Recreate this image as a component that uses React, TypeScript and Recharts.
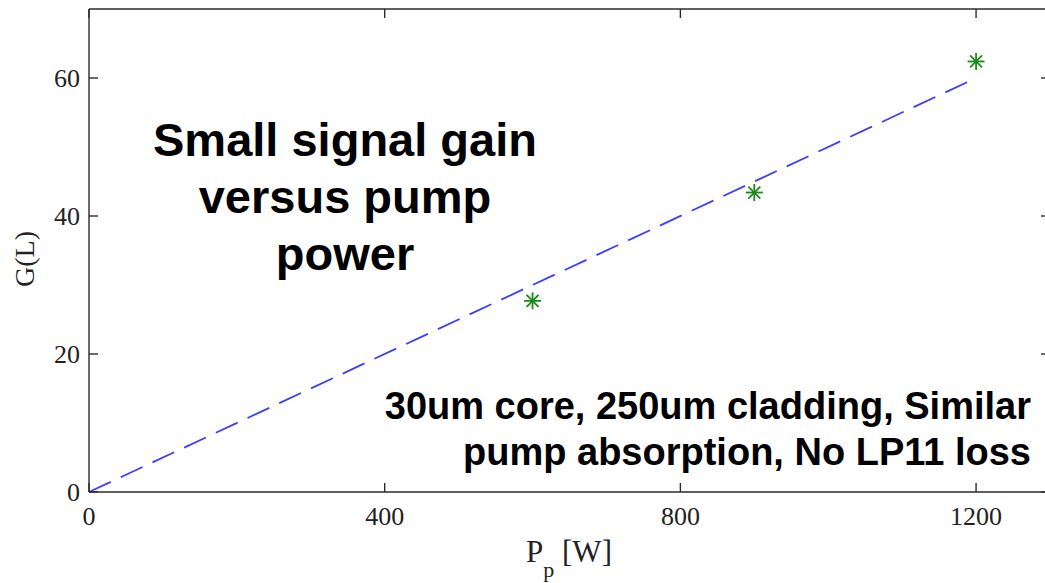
import {
  ComposedChart,
  Line,
  Scatter,
  XAxis,
  YAxis,
} from "recharts";

// linear fit through the origin (dashed blue)
const fitPower = [0, 1200];
const fitGain = [0, 60];

// simulated points (green asterisks)
const measPower = [600, 900, 1200];
const measGain = [27.7, 43.4, 62.4];

const xTicks = [0, 400, 800, 1200];
const yTicks = [0, 20, 40, 60];
const xDomain = [0, 1300];
const yDomain = [0, 70];

const fitData = fitPower.map((p, i) => ({ p, g: fitGain[i] }));
const measData = measPower.map((p, i) => ({ p, g: measGain[i] }));

const SERIF = '"Liberation Serif", "Times New Roman", serif';
const SANS = '"Liberation Sans", Arial, sans-serif';
const AXIS = "#2b2b2b";
const TICK_LEN = 9;

const axisLine = { stroke: AXIS, strokeWidth: 1.4 };
const tickLine = { stroke: AXIS, strokeWidth: 1.4 };

/**
 * Small signal gain G(L) vs pump power P_p. MATLAB-ish look: boxed axes,
 * ticks pointing into the plot (negative tickSize), serif tick labels.
 * The right edge of the box sits just outside the picture, like the original.
 */
export default function App() {
  return (
    <div style={{ position: "relative", width: 1045, height: 583, overflow: "hidden", background: "#fff" }}>
      <style>{"body{margin:0;overflow:hidden}"}</style>
      <ComposedChart
        width={1055}
        height={583}
        margin={{ top: 8, right: 0, bottom: 0, left: 0 }}
      >
        <XAxis
          dataKey="p"
          type="number"
          domain={xDomain}
          ticks={xTicks}
          interval={0}
          height={91}
          tickSize={-TICK_LEN}
          tickMargin={TICK_LEN}
          tickLine={tickLine}
          axisLine={axisLine}
          tick={<BottomTick />}
          label={() => (
            <text x={569} y={562} textAnchor="middle" fontFamily={SERIF} fontSize={31} fill="#222">
              <tspan>P</tspan>
              <tspan dy={15} fontSize={22}>p</tspan>
              <tspan dy={-15}> [W]</tspan>
            </text>
          )}
        />
        <XAxis
          xAxisId="top"
          dataKey="p"
          orientation="top"
          type="number"
          domain={xDomain}
          ticks={xTicks}
          interval={0}
          height={1}
          tickSize={-TICK_LEN}
          tickLine={tickLine}
          axisLine={axisLine}
          tick={<NoLabel />}
        />
        <YAxis
          dataKey="g"
          type="number"
          domain={yDomain}
          ticks={yTicks}
          interval={0}
          width={89}
          tickSize={-TICK_LEN}
          tickMargin={TICK_LEN}
          tickLine={tickLine}
          axisLine={axisLine}
          tick={<LeftTick />}
          label={() => (
            <text
              x={24}
              y={259}
              transform="rotate(-90 24 259)"
              textAnchor="middle"
              dy="0.35em"
              fontFamily={SERIF}
              fontSize={28}
              fill="#222"
            >
              G(L)
            </text>
          )}
        />
        <YAxis
          yAxisId="right"
          dataKey="g"
          orientation="right"
          type="number"
          domain={yDomain}
          ticks={yTicks}
          interval={0}
          width={5}
          tickSize={-TICK_LEN}
          tickLine={tickLine}
          axisLine={axisLine}
          tick={<NoLabel />}
        />
        {/* invisible copy of the fit so the top/right frame axes have a series */}
        <Line
          xAxisId="top"
          yAxisId="right"
          data={fitData}
          dataKey="g"
          stroke="none"
          dot={false}
          activeDot={false}
          isAnimationActive={false}
        />
        <Line
          data={fitData}
          dataKey="g"
          type="linear"
          stroke="#3d3dff"
          strokeWidth={1.8}
          strokeDasharray="24 11"
          dot={false}
          activeDot={false}
          isAnimationActive={false}
        />
        <Scatter
          data={measData}
          dataKey="g"
          fill="#1a8a1a"
          shape={(props: any) => <Asterisk cx={props.cx} cy={props.cy} />}
          isAnimationActive={false}
        />
      </ComposedChart>

      <div
        style={{
          position: "absolute",
          left: 0,
          top: 111,
          width: 690,
          textAlign: "center",
          fontFamily: SANS,
          fontWeight: 700,
          fontSize: 47,
          lineHeight: "57px",
          color: "#000",
        }}
      >
        Small signal gain
        <br />
        versus pump
        <br />
        power
      </div>
      <div
        style={{
          position: "absolute",
          right: 14,
          top: 383,
          textAlign: "right",
          whiteSpace: "nowrap",
          fontFamily: SANS,
          fontWeight: 700,
          fontSize: 38,
          lineHeight: "46px",
          color: "#000",
        }}
      >
        30um core, 250um cladding, Similar
        <br />
        pump absorption, No LP11 loss
      </div>
    </div>
  );
}

// frame axes: keep the tick lines, drop the labels
function NoLabel() {
  return <g />;
}

function BottomTick({ x, y, payload }: any) {
  // y arrives back on the axis line (inward tick + equal margin)
  return (
    <text x={x} y={y + 33} textAnchor="middle" fontFamily={SERIF} fontSize={26} fill="#222">
      {payload.value}
    </text>
  );
}

function LeftTick({ x, y, payload }: any) {
  return (
    <text x={x - 9} y={y + 9} textAnchor="end" fontFamily={SERIF} fontSize={26} fill="#222">
      {payload.value}
    </text>
  );
}

// MATLAB '*' marker: a plus and an x on top of each other
function Asterisk({ cx, cy }: { cx: number; cy: number }) {
  const r = 8.5;
  const d = 6;
  const c = "#1a8a1a";
  return (
    <g stroke={c} strokeWidth={1.8}>
      <line x1={cx - r} x2={cx + r} y1={cy} y2={cy} />
      <line x1={cx} x2={cx} y1={cy - r} y2={cy + r} />
      <line x1={cx - d} x2={cx + d} y1={cy - d} y2={cy + d} />
      <line x1={cx - d} x2={cx + d} y1={cy + d} y2={cy - d} />
    </g>
  );
}
